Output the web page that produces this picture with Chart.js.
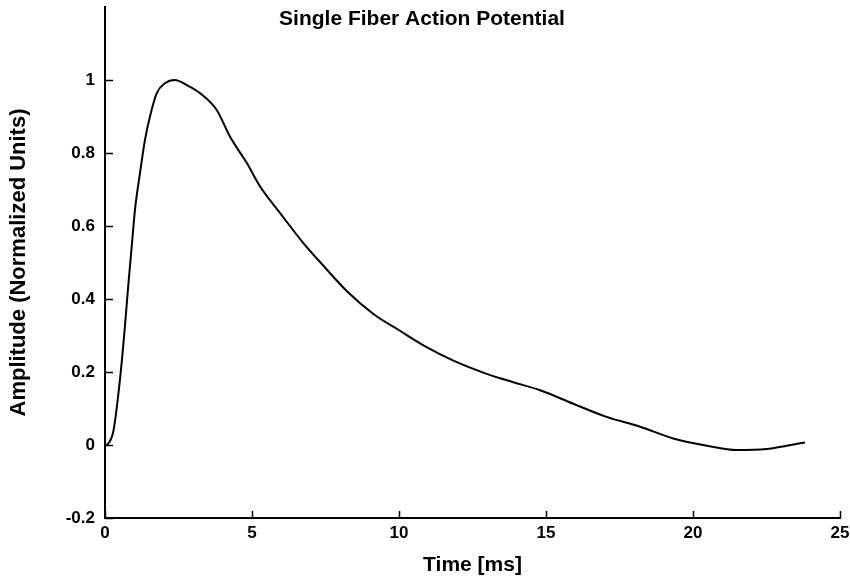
<!DOCTYPE html>
<html>
<head>
<meta charset="utf-8">
<script src="https://cdn.jsdelivr.net/npm/chart.js@4"></script>
<style>
    html, body { margin: 0; padding: 0; background: #fff; }
    #wrap { width: 850px; height: 578px; }
</style>
</head>
<body>
<div id="wrap"><canvas id="fiberChart" width="850" height="578"></canvas></div>
<script>
// Data
const timeMs = [0.05, 0.11, 0.28, 0.51, 0.68, 0.79, 0.91, 1.02, 1.19, 1.36, 1.53, 1.76, 2.04, 2.38, 2.78,
    3.23, 3.80, 4.25, 4.82, 5.27, 5.95, 6.74, 7.43, 8.22, 9.13, 10.03, 10.94, 11.85, 12.98, 13.89,
    14.80, 15.93, 17.06, 18.20, 19.33, 20.47, 21.49, 22.51, 23.19, 23.81];
const amplitude = [0.0, 0.004, 0.036, 0.18, 0.327, 0.436, 0.545, 0.645, 0.745, 0.836, 0.90, 0.964, 0.991, 1.0, 0.986,
    0.964, 0.918, 0.845, 0.773, 0.709, 0.636, 0.554, 0.491, 0.422, 0.359, 0.313, 0.268, 0.231, 0.195, 0.172,
    0.150, 0.113, 0.077, 0.050, 0.018, -0.002, -0.014, -0.011, -0.002, 0.007];
const xTicks = [0, 5, 10, 15, 20, 25];
const yTicks = [-0.2, 0, 0.2, 0.4, 0.6, 0.8, 1];

const chartTitle = 'Single Fiber Action Potential';
const FONT = '"Liberation Sans", Arial, sans-serif';

// MATLAB style inward tick marks + title drawn over the plot top
const matlabTicks = {
    id: 'matlabTicks',
    afterDraw(chart) {
        const ctx = chart.ctx;
        const xs = chart.scales.x;
        const ys = chart.scales.y;
        const area = chart.chartArea;
        ctx.save();
        ctx.strokeStyle = '#000';
        ctx.lineWidth = 1.5;
        ctx.beginPath();
        xTicks.forEach(v => {
            const px = Math.round(xs.getPixelForValue(v)) + 0.5;
            ctx.moveTo(px, area.bottom);
            ctx.lineTo(px, area.bottom - 7);
        });
        yTicks.forEach(v => {
            const py = Math.round(ys.getPixelForValue(v)) + 0.5;
            ctx.moveTo(area.left, py);
            ctx.lineTo(area.left + 8, py);
        });
        ctx.stroke();

        ctx.fillStyle = '#000';
        ctx.font = 'bold 21px ' + FONT;
        ctx.textAlign = 'center';
        ctx.textBaseline = 'alphabetic';
        ctx.fillText(chartTitle, 422, 25);
        ctx.restore();
    }
};

new Chart(document.getElementById('fiberChart').getContext('2d'), {
    type: 'line',
    data: {
        datasets: [{
            data: timeMs.map((t, i) => ({ x: t, y: amplitude[i] })),
            borderColor: '#000',
            borderWidth: 2,
            pointRadius: 0,
            cubicInterpolationMode: 'monotone',
            fill: false
        }]
    },
    options: {
        responsive: false,
        animation: false,
        layout: { padding: { top: 7, right: 10, left: 0, bottom: 0 } },
        plugins: {
            legend: { display: false },
            title: { display: false },
            tooltip: { enabled: false }
        },
        scales: {
            x: {
                type: 'linear',
                min: 0,
                max: 25,
                afterBuildTicks: s => { s.ticks = xTicks.map(v => ({ value: v })); },
                afterFit: s => {
                    s.height = 60;
                    s.paddingLeft = 0;
                    s.paddingRight = 0;
                },
                grid: { display: false, drawTicks: false },
                border: { display: true, color: '#000', width: 2 },
                ticks: {
                    color: '#000',
                    padding: 5,
                    font: { family: FONT, size: 17, weight: 'bold' },
                    callback: v => String(v)
                },
                title: {
                    display: true,
                    text: 'Time [ms]',
                    color: '#000',
                    font: { family: FONT, size: 21, weight: 'bold' },
                    padding: { top: 2, bottom: 0 }
                }
            },
            y: {
                type: 'linear',
                min: -0.2,
                max: 1.2,
                afterBuildTicks: s => { s.ticks = yTicks.map(v => ({ value: v })); },
                afterFit: s => {
                    s.width = 105;
                    s.paddingTop = 0;
                    s.paddingBottom = 0;
                },
                grid: { display: false, drawTicks: false },
                border: { display: true, color: '#000', width: 2 },
                ticks: {
                    color: '#000',
                    padding: 10,
                    font: { family: FONT, size: 17, weight: 'bold' },
                    callback: v => String(Math.round(v * 10) / 10)
                },
                title: {
                    display: true,
                    text: 'Amplitude (Normalized Units)',
                    color: '#000',
                    font: { family: FONT, size: 22, weight: 'bold' },
                    padding: { top: 6, bottom: 4 }
                }
            }
        }
    },
    plugins: [matlabTicks]
});
</script>
</body>
</html>
